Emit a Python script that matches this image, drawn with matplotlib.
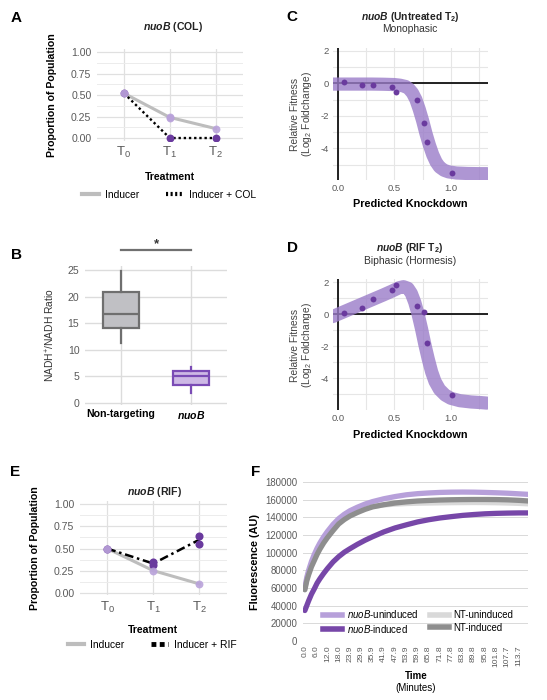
import numpy as np
import matplotlib
matplotlib.use("Agg")
import matplotlib.pyplot as plt
from matplotlib.lines import Line2D

plt.rcParams["font.family"] = "Liberation Sans"
plt.rcParams["mathtext.fontset"] = "custom"
plt.rcParams["mathtext.rm"] = "Liberation Sans"
plt.rcParams["mathtext.it"] = "Liberation Sans:italic"
plt.rcParams["mathtext.bf"] = "Liberation Sans:bold"
plt.rcParams["mathtext.bfit"] = "Liberation Sans:italic:bold"
plt.rcParams["axes.unicode_minus"] = False

W, H = 547, 700

DARK = "#6a3a9e"
LIGHT = "#b9a2da"
GRAYLINE = "#bdbdbd"
TICK = "#5a5a5a"
GRID = "#e0e0e0"

# ---------------- data ----------------
# A: nuoB (COL)
tp_labels = [r"$\mathregular{T_0}$", r"$\mathregular{T_1}$", r"$\mathregular{T_2}$"]
a_ind_x = [0, 1, 1, 2]
a_ind_y = [0.52, 0.25, 0.23, 0.11]
a_ind_line = [0.52, 0.24, 0.11]
a_col_x = [0, 1, 2]
a_col_y = [0.52, 0.0, 0.0]
a_col_line = [0.52, 0.0, 0.0]

# B: NADH+/NADH ratio boxes
b_groups = ["Non-targeting", r"$\mathbfit{nuoB}$"]
b_whislo = [11.3, 1.9]
b_q1 = [14.1, 3.4]
b_med = [16.8, 5.0]
b_q3 = [20.9, 6.0]
b_whishi = [24.8, 6.8]

# C / D: knockdown vs fitness
kd_points = [0.05, 0.21, 0.31, 0.48, 0.51, 0.70, 0.76, 0.79, 1.01]
c_fitness = [0.1, -0.12, -0.1, -0.25, -0.55, -1.0, -2.45, -3.6, -5.55]
d_fitness = [0.1, 0.42, 0.92, 1.52, 1.8, 0.52, 0.15, -1.77, -5.05]

c_curve_x = [-0.05, 0.0, 0.1, 0.2, 0.3, 0.4, 0.5, 0.55, 0.6, 0.63, 0.66, 0.69, 0.72,
             0.75, 0.78, 0.81, 0.84, 0.87, 0.9, 0.94, 0.98, 1.05, 1.15, 1.25, 1.32]
c_curve_y = [-0.05, -0.05, -0.05, -0.05, -0.05, -0.06, -0.08, -0.12, -0.2, -0.35, -0.6,
             -1.0, -1.6, -2.3, -3.1, -3.8, -4.4, -4.85, -5.15, -5.35, -5.45, -5.52,
             -5.55, -5.56, -5.56]
d_curve_x = [-0.05, 0.0, 0.1, 0.2, 0.3, 0.4, 0.48, 0.54, 0.58, 0.62, 0.65, 0.68, 0.71,
             0.74, 0.77, 0.8, 0.83, 0.86, 0.9, 0.95, 1.0, 1.08, 1.18, 1.27, 1.32]
d_curve_y = [-0.15, 0.0, 0.3, 0.6, 0.9, 1.2, 1.45, 1.65, 1.72, 1.62, 1.3, 0.75, 0.0,
             -0.9, -1.9, -2.8, -3.6, -4.2, -4.7, -5.05, -5.25, -5.4, -5.48, -5.52, -5.55]

# E: nuoB (RIF)
e_ind_x = [0, 1, 2]
e_ind_y = [0.50, 0.25, 0.10]
e_rif_x = [0, 1, 1, 2, 2]
e_rif_y = [0.50, 0.35, 0.31, 0.64, 0.55]
e_rif_line = [0.50, 0.33, 0.60]

# F: fluorescence time course
f_time = [0, 1, 2, 3.5, 5, 6.5, 8, 10, 12, 15, 18, 21, 24, 28, 32, 36, 42, 48, 54,
          60, 66, 72, 78, 84, 90, 96, 102, 108, 114, 119]
f_nuob_unind = [60000, 72000, 80000, 90000, 98000, 105000, 111000, 118000, 124000,
                132000, 138500, 143500, 147500, 151500, 155000, 157800, 161000, 163500,
                165500, 166800, 167600, 168200, 168500, 168600, 168500, 168200, 167800,
                167300, 166600, 166000]
f_nuob_ind = [34500, 40000, 45500, 53000, 59000, 65500, 70500, 76500, 82000, 89500,
              95500, 100500, 104500, 109500, 114000, 118000, 123500, 128000, 131500,
              134800, 137300, 139300, 140800, 142200, 143200, 144000, 144500, 144800,
              145000, 145000]
f_nt_unind = [60000, 70000, 77500, 87000, 94500, 101500, 107500, 114500, 120500, 128500,
              135500, 140000, 143500, 147000, 150000, 152300, 154000, 155000, 155600,
              156000, 156200, 156400, 156600, 156700, 156800, 156700, 156500, 156200,
              155800, 155300]
f_nt_ind = [58000, 68000, 75000, 84000, 91000, 98000, 104000, 111000, 117000, 125000,
            132500, 137500, 141500, 145500, 149000, 151800, 154300, 156200, 157500,
            158500, 159100, 159600, 159900, 160100, 160200, 160200, 160100, 159800,
            159200, 158500]
f_ticks = [0.0, 6.0, 12.0, 18.0, 23.9, 29.9, 35.9, 41.9, 47.9, 53.9, 59.9, 65.8, 71.8,
           77.8, 83.8, 89.8, 95.8, 101.8, 107.7, 113.7]

fig = plt.figure(figsize=(W / 100, H / 100), dpi=100)


def px_axes(left, top, right, bottom):
    return fig.add_axes([left / W, 1 - bottom / H, (right - left) / W, (bottom - top) / H])


def px_text(x, y, s, **kw):
    kw.setdefault("ha", "center")
    kw.setdefault("va", "center")
    fig.text(x / W, 1 - y / H, s, **kw)


def clean(ax):
    for sp in ax.spines.values():
        sp.set_visible(False)
    ax.tick_params(which="both", length=0, colors=TICK)
    ax.set_axisbelow(True)


def proportion_panel(ax):
    clean(ax)
    ax.set_xlim(-0.59, 2.6)
    ax.set_ylim(-0.03, 1.04)
    ax.set_xticks(range(3))
    ax.set_xticklabels(tp_labels, fontsize=9.5)
    ax.set_yticks([0, 0.25, 0.5, 0.75, 1.0])
    ax.set_yticklabels(["0.00", "0.25", "0.50", "0.75", "1.00"], fontsize=7.6)
    ax.set_yticks([0.125, 0.375, 0.625, 0.875], minor=True)
    ax.grid(True, which="major", color=GRID, lw=0.9)
    ax.grid(True, which="minor", axis="y", color="#ececec", lw=0.7)
    ax.tick_params(axis="x", pad=3)
    ax.tick_params(axis="y", pad=4)


# ---------------- A ----------------
ax = px_axes(97, 48.6, 243, 140.6)
proportion_panel(ax)
ax.plot(range(3), a_ind_line, color=GRAYLINE, lw=2.2, zorder=2)
ax.plot(range(3), a_col_line, color="black", lw=1.7, ls=(0, (1, 1.2)), zorder=3)
ax.scatter(a_col_x, a_col_y, s=32, color=DARK, zorder=4, lw=0)
ax.scatter(a_ind_x, a_ind_y, s=32, color=LIGHT, alpha=0.9, zorder=5, lw=0)
px_text(173, 27, r"$\mathbfit{nuoB}$ (COL)", fontsize=7.6, fontweight="bold", color="#222")
px_text(52, 95, "Proportion of Population", rotation=90, fontsize=7.6, fontweight="bold")
px_text(170, 177, "Treatment", fontsize=7.6, fontweight="bold")
fig.legend([Line2D([], [], color=GRAYLINE, lw=3),
            Line2D([], [], color="black", lw=3, ls=(0, (0.5, 0.6)))],
           ["Inducer", "Inducer + COL"], loc="center",
           bbox_to_anchor=(169 / W, 1 - 195 / H), ncol=2, frameon=False,
           fontsize=7.4, handlelength=1.6, columnspacing=2.6, handletextpad=0.6)

# ---------------- B ----------------
ax = px_axes(85, 265.7, 227, 404.6)
clean(ax)
stats = [dict(whislo=b_whislo[i], q1=b_q1[i], med=b_med[i], q3=b_q3[i],
              whishi=b_whishi[i], label=b_groups[i]) for i in range(2)]
bp = ax.bxp(stats, positions=[0, 1], widths=0.52, showfliers=False, showcaps=False,
            patch_artist=True)
edge_cols = ["#6f6f6f", "#7a4bb5"]
face_cols = ["#c0c0c4", "#cdb8e5"]
for i in range(2):
    bp["boxes"][i].set(facecolor=face_cols[i], edgecolor=edge_cols[i], lw=1.6)
    bp["medians"][i].set(color=edge_cols[i], lw=1.6)
    for w in bp["whiskers"][2 * i:2 * i + 2]:
        w.set(color=edge_cols[i], lw=1.6)
ax.set_xlim(-0.51, 1.51)
ax.set_ylim(-0.3, 25.8)
ax.set_yticks([0, 5, 10, 15, 20, 25])
ax.set_xticks([0, 1])
ax.set_xticklabels(b_groups, fontsize=7.6, fontweight="bold", color="black")
ax.tick_params(axis="y", labelsize=7.6, pad=4)
ax.tick_params(axis="x", pad=3)
ax.grid(True, color="#dcdcdc", lw=1.0)
ax.plot([0, 1], [28.7, 28.7], color="#707070", lw=1.6, clip_on=False)
ax.text(0.5, 29.9, "*", ha="center", va="center", fontsize=9.5, fontweight="bold",
        color="#333", clip_on=False)
px_text(50, 335, r"NADH$^{+}$/NADH Ratio", rotation=90, fontsize=7.4, color="#333")

# ---------------- C & D ----------------
def fitness_panel(ax, cx, cy, py):
    clean(ax)
    ax.set_xlim(-0.045, 1.33)
    ax.set_ylim(-5.95, 2.2)
    ax.set_xticks([0, 0.5, 1.0])
    ax.set_xticklabels(["0.0", "0.5", "1.0"])
    ax.set_xticks([0.25, 0.75, 1.25], minor=True)
    ax.set_yticks([2, 0, -2, -4])
    ax.set_yticks([1, -1, -3, -5], minor=True)
    ax.tick_params(labelsize=6.8, pad=3)
    ax.grid(True, which="both", color="#e6e6e6", lw=0.8)
    ax.axhline(0, color="#111", lw=1.3, zorder=2)
    ax.axvline(0, color="#111", lw=1.3, zorder=2)
    ax.plot(cx, cy, color="#9a7cc8", alpha=0.8, lw=9.5, solid_capstyle="round",
            solid_joinstyle="round", zorder=3)
    ax.scatter(kd_points, py, s=18, color=DARK, zorder=4, lw=0)


ax = px_axes(333, 47.5, 488, 180)
fitness_panel(ax, c_curve_x, c_curve_y, c_fitness)
px_text(410, 17, r"$\mathbfit{nuoB}$ (Untreated T$_\mathbf{2}$)", fontsize=7.4,
        fontweight="bold", color="#222")
px_text(410, 29, "Monophasic", fontsize=7.4, color="#333")
px_text(302, 114, "Relative Fitness\n(Log$_2$ Foldchange)", rotation=90, fontsize=7.4,
        color="#444", linespacing=1.1)
px_text(410, 204, "Predicted Knockdown", fontsize=7.8, fontweight="bold")

ax = px_axes(333, 279, 488, 409.5)
fitness_panel(ax, d_curve_x, d_curve_y, d_fitness)
px_text(410, 248, r"$\mathbfit{nuoB}$ (RIF T$_\mathbf{2}$)", fontsize=7.4,
        fontweight="bold", color="#222")
px_text(410, 261, "Biphasic (Hormesis)", fontsize=7.4, color="#333")
px_text(302, 345, "Relative Fitness\n(Log$_2$ Foldchange)", rotation=90, fontsize=7.4,
        color="#444", linespacing=1.1)
px_text(410, 435, "Predicted Knockdown", fontsize=7.8, fontweight="bold")

# ---------------- E ----------------
ax = px_axes(80, 500.8, 227, 595.4)
proportion_panel(ax)
ax.plot(range(3), e_rif_line, color="black", lw=1.8, ls=(0, (3.5, 1.5, 1, 1.5)), zorder=3)
ax.plot(range(3), e_ind_y, color=GRAYLINE, lw=2.2, zorder=2)
ax.scatter(e_rif_x, e_rif_y, s=34, color=DARK, zorder=4, lw=0)
ax.scatter(e_ind_x, e_ind_y, s=32, color=LIGHT, alpha=0.9, zorder=5, lw=0)
px_text(155, 492, r"$\mathbfit{nuoB}$ (RIF)", fontsize=7.6, fontweight="bold", color="#222")
px_text(35, 548, "Proportion of Population", rotation=90, fontsize=7.6, fontweight="bold")
px_text(153, 630, "Treatment", fontsize=7.6, fontweight="bold")
fig.legend([Line2D([], [], color=GRAYLINE, lw=3),
            Line2D([], [], color="black", lw=3.5, ls=(0, (1, 0.7)))],
           ["Inducer", "Inducer + RIF"], loc="center",
           bbox_to_anchor=(152 / W, 1 - 645 / H), ncol=2, frameon=False,
           fontsize=7.4, handlelength=1.6, columnspacing=2.6, handletextpad=0.6)

# ---------------- F ----------------
ax = px_axes(303, 482, 528, 641)
clean(ax)
ax.set_xlim(-1, 118.8)
ax.set_ylim(0, 180000)
ax.set_yticks(np.arange(0, 180001, 20000))
ax.set_yticklabels([str(v) for v in range(0, 180001, 20000)])
ax.set_xticks(f_ticks)
ax.set_xticklabels([f"{t:.1f}" for t in f_ticks], rotation=90)
ax.tick_params(axis="y", labelsize=6.9, pad=4)
ax.tick_params(axis="x", labelsize=6.1, pad=3)
ax.grid(True, axis="y", color="#d9d9d9", lw=0.7)
f_series = [
    (f_nt_unind, "#d9d9d9", "NT-uninduced"),
    (f_nuob_unind, "#b7a0da", r"$\mathit{nuoB}$-uninduced"),
    (f_nt_ind, "#8e8e8e", "NT-induced"),
    (f_nuob_ind, "#7747a8", r"$\mathit{nuoB}$-induced"),
]
lines = {}
for vals, col, lab in f_series:
    lines[lab] = ax.plot(f_time, vals, color=col, lw=3.8, solid_capstyle="round",
                         solid_joinstyle="round")[0]
order = [r"$\mathit{nuoB}$-uninduced", r"$\mathit{nuoB}$-induced", "NT-uninduced", "NT-induced"]
ax.legend([Line2D([], [], color=lines[k].get_color(), lw=4) for k in order], order,
          loc="center", bbox_to_anchor=(418 / W, 1 - 621.5 / H),
          bbox_transform=fig.transFigure, ncol=2, frameon=False, fontsize=6.9,
          handlelength=2.0, columnspacing=1.2, handletextpad=0.5, labelspacing=0.25)
px_text(255, 562, "Fluorescence (AU)", rotation=90, fontsize=7.8, fontweight="bold")
px_text(416, 676, "Time", fontsize=7.0, fontweight="bold")
px_text(416, 688, "(Minutes)", fontsize=7.0)

# panel letters
for letter, x, y in [("A", 16, 18), ("B", 17, 255), ("C", 292, 17), ("D", 292, 248),
                     ("E", 15, 472), ("F", 256, 472)]:
    px_text(x, y, letter, fontsize=11, fontweight="bold", ha="center")

fig.savefig("out.png", dpi=100)
